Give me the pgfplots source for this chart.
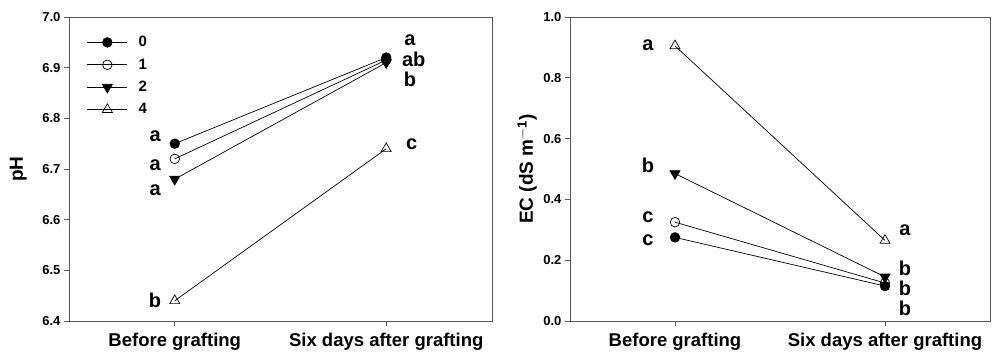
\documentclass[border=0pt]{standalone}
\usepackage{fontspec}
\setmainfont{Liberation Sans}
\usepackage{pgfplots}
\pgfplotsset{compat=1.18}
\tikzset{lett/.style={font=\fontsize{20}{22}\selectfont\bfseries}}
\begin{document}
\begin{tikzpicture}
\useasboundingbox (0pt,0pt) rectangle (994pt,356pt);
\pgfplotsset{
 myax/.style={
  scale only axis, width=#1, height=304pt,
  xmin=-0.5, xmax=1.5, xtick={0,1},
  xticklabels={Before grafting, Six days after grafting},
  axis line style={black!65, line width=0.9pt},
  tick style={black!65, line width=0.8pt}, tick align=outside, major tick length=5pt,
  xtick pos=bottom, ytick pos=left,
  yticklabel style={font=\fontsize{13}{15}\selectfont\bfseries,
    /pgf/number format/fixed, /pgf/number format/fixed zerofill, /pgf/number format/precision=1},
  xticklabel style={font=\fontsize{18.5}{21}\selectfont\bfseries, yshift=-4pt},
  label style={font=\fontsize{19}{22}\selectfont\bfseries},
  /pgf/number format/assume math mode=true,
  every axis plot/.append style={black, line width=0.7pt},
  clip=false,
 },
 c1/.style={mark=*, mark size=4.8pt, mark options={fill=black}},
 c2/.style={mark=o, mark size=4.8pt, mark options={fill=white}},
 c3/.style={mark=triangle*, mark size=5.8pt, mark options={fill=black, rotate=180}},
 c4/.style={mark=triangle, mark size=5.8pt, mark options={fill=white}},
}
\begin{axis}[myax=423pt, at={(69pt,35pt)}, anchor=south west,
  ymin=6.4, ymax=7.0, ytick={6.4,6.5,...,7.0},
  ylabel={pH}, ylabel style={at={(axis description cs:-0.12,0.5)}, anchor=center},
  legend style={at={(0.035,0.95)}, anchor=north west, draw=none, fill=none,
    font=\fontsize{15}{17}\selectfont\bfseries, row sep=6.5pt, column sep=9pt},
  legend cell align=left,
  legend image code/.code={\draw[mark repeat=2, mark phase=2, #1] plot coordinates {(0pt,0pt) (20pt,0pt) (40pt,0pt)};}
]
\addplot[c1] coordinates {(0,6.75) (1,6.92)};
\addplot[c2] coordinates {(0,6.72) (1,6.915)};
\addplot[c3] coordinates {(0,6.68) (1,6.91)};
\addplot[c4] coordinates {(0,6.44) (1,6.74)};
\legend{0,1,2,4}
\node[lett] at (axis cs:-0.093,6.765) {a};
\node[lett] at (axis cs:-0.093,6.708) {a};
\node[lett] at (axis cs:-0.093,6.659) {a};
\node[lett] at (axis cs:-0.093,6.441) {b};
\node[lett] at (axis cs:1.112,6.955) {a};
\node[lett] at (axis cs:1.13,6.917) {ab};
\node[lett] at (axis cs:1.112,6.876) {b};
\node[lett] at (axis cs:1.12,6.749) {c};
\end{axis}
\begin{axis}[myax=420pt, at={(570pt,35pt)}, anchor=south west,
  ymin=0, ymax=1.0, ytick={0,0.2,...,1.0},
  ylabel={EC (dS m$^{\mathbf{-1}}$)}, ylabel style={at={(axis description cs:-0.102,0.5)}, anchor=center}
]
\addplot[c1] coordinates {(0,0.275) (1,0.115)};
\addplot[c2] coordinates {(0,0.325) (1,0.125)};
\addplot[c3] coordinates {(0,0.485) (1,0.145)};
\addplot[c4] coordinates {(0,0.905) (1,0.265)};
\node[lett] at (axis cs:-0.129,0.908) {a};
\node[lett] at (axis cs:-0.129,0.513) {b};
\node[lett] at (axis cs:-0.129,0.342) {c};
\node[lett] at (axis cs:-0.129,0.266) {c};
\node[lett] at (axis cs:1.095,0.299) {a};
\node[lett] at (axis cs:1.095,0.174) {b};
\node[lett] at (axis cs:1.095,0.109) {b};
\node[lett] at (axis cs:1.095,0.043) {b};
\end{axis}
\end{tikzpicture}
\end{document}
